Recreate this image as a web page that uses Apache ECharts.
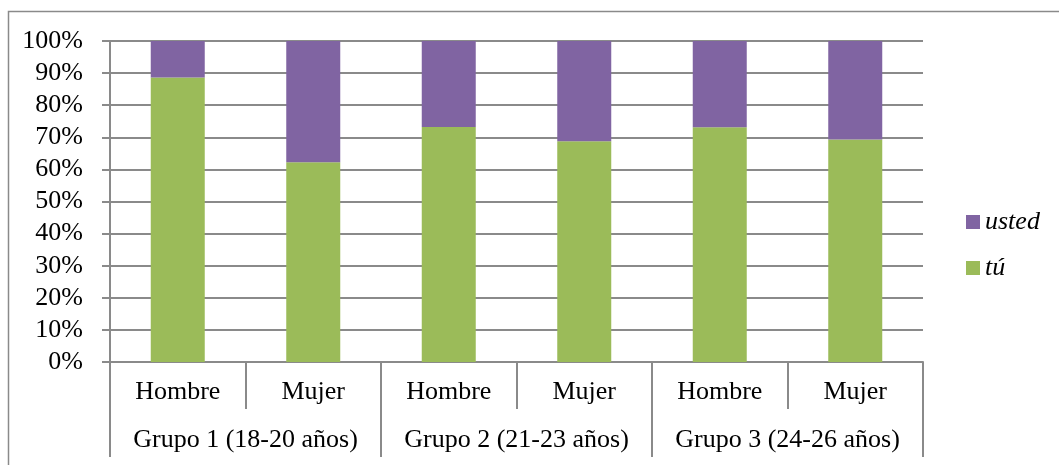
<!DOCTYPE html>
<html>
<head>
<meta charset="utf-8">
<script src="https://cdn.jsdelivr.net/npm/echarts@6/dist/echarts.min.js"></script>
<style>
    html, body { margin: 0; padding: 0; background: #fff; }
    #chart { width: 1059px; height: 465px; }
</style>
</head>
<body>
<div id="chart"></div>
<script>
// datos del gráfico
const sexos = ['Hombre', 'Mujer', 'Hombre', 'Mujer', 'Hombre', 'Mujer'];
const grupos = ['Grupo 1 (18-20 años)', 'Grupo 2 (21-23 años)', 'Grupo 3 (24-26 años)'];
const tu = [88.6, 62.2, 73.2, 68.8, 73.1, 69.3];
const usted = [11.4, 37.8, 26.8, 31.2, 26.9, 30.7];

const FONT = '"Liberation Serif", "Times New Roman", serif';
const GRAY = '#8a8a8a';

const chart = echarts.init(document.getElementById('chart'));

chart.setOption({
    animation: false,
    textStyle: { fontFamily: FONT },
    graphic: [{
        type: 'rect',
        shape: { x: 8.5, y: 11.5, width: 1200, height: 600 },
        style: { fill: 'none', stroke: GRAY, lineWidth: 1.5 },
        silent: true
    }],
    grid: { left: 110, right: 136, top: 41, bottom: 103 },
    legend: {
        orient: 'vertical',
        left: 966,
        top: 209,
        padding: 0,
        itemWidth: 14,
        itemHeight: 14,
        itemGap: 20,
        icon: 'rect',
        data: ['usted', 'tú'],
        textStyle: { fontFamily: FONT, fontSize: 26, fontStyle: 'italic', color: '#000' }
    },
    xAxis: [{
        type: 'category',
        data: sexos,
        axisLine: { lineStyle: { color: GRAY, width: 2 } },
        axisTick: { show: true, interval: 0, length: 47, lineStyle: { color: GRAY, width: 2 } },
        axisLabel: { interval: 0, margin: 17, fontSize: 26, color: '#000', fontFamily: FONT }
    }, {
        type: 'category',
        data: grupos,
        position: 'bottom',
        axisLine: { show: false },
        axisTick: { show: true, interval: 0, length: 95, lineStyle: { color: GRAY, width: 2 } },
        axisLabel: { interval: 0, margin: 65, fontSize: 26, color: '#000', fontFamily: FONT }
    }],
    yAxis: {
        type: 'value',
        min: 0,
        max: 100,
        interval: 10,
        axisLine: { show: true, lineStyle: { color: GRAY, width: 2 } },
        axisTick: { show: true, length: 8, lineStyle: { color: GRAY, width: 2 } },
        splitLine: { lineStyle: { color: GRAY, width: 2 } },
        axisLabel: { formatter: '{value}%', margin: 27, fontSize: 26, color: '#000', fontFamily: FONT }
    },
    series: [{
        name: 'tú',
        type: 'bar',
        stack: 'total',
        barWidth: 54,
        data: tu,
        itemStyle: { color: '#9BBB59' }
    }, {
        name: 'usted',
        type: 'bar',
        stack: 'total',
        barWidth: 54,
        data: usted,
        itemStyle: { color: '#8064A2' }
    }]
});
</script>
</body>
</html>
